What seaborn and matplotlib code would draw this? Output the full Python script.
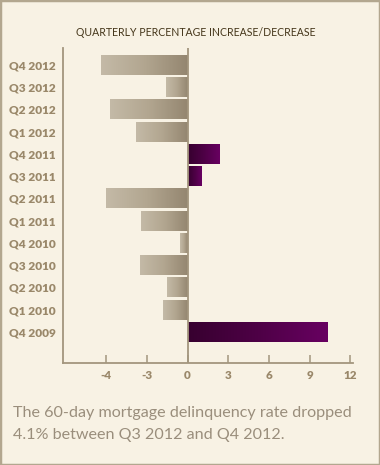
import matplotlib
matplotlib.use("Agg")
import matplotlib.pyplot as plt
import seaborn as sns
import numpy as np
import pandas as pd
from matplotlib.colors import LinearSegmentedColormap
from matplotlib.patches import Rectangle

quarters = ["Q4 2012", "Q3 2012", "Q2 2012", "Q1 2012", "Q4 2011", "Q3 2011",
            "Q2 2011", "Q1 2011", "Q4 2010", "Q3 2010", "Q2 2010", "Q1 2010", "Q4 2009"]
values = [-6.4, -1.58, -5.73, -3.8, 2.35, 1.01, -6.0, -3.43, -0.54, -3.5, -1.5, -1.8, 10.27]
tick_positions = [-6, -3, 0, 3, 6, 9, 12]
tick_labels = ["-4", "-3", "0", "3", "6", "9", "12"]

title = "QUARTERLY PERCENTAGE INCREASE/DECREASE"
caption = ["The 60-day mortgage delinquency rate dropped",
           "4.1% between Q3 2012 and Q4 2012."]

bg = "#f8f2e4"
axis_col = "#a3967e"
label_col = "#9a886a"

sns.set_theme(style="white")
plt.rcParams["font.family"] = ["Lato", "DejaVu Sans"]

fig = plt.figure(figsize=(3.8, 4.65), dpi=100, facecolor=bg)
ax = fig.add_axes([62.7 / 380, 1 - 363 / 465, (352.5 - 62.7) / 380, (363 - 48) / 465])
ax.set_facecolor(bg)

df = pd.DataFrame({"quarter": quarters, "value": values})
sns.barplot(data=df, x="value", y="quarter", orient="h", width=0.9, ax=ax,
            color="#a89a82", saturation=1)

neg_cmap = LinearSegmentedColormap.from_list("neg", ["#c4baa7", "#b2a690", "#948670"])
pos_cmap = LinearSegmentedColormap.from_list("pos", ["#37002f", "#4e0046", "#680061"])
grad = np.linspace(0, 1, 256).reshape(1, -1)
for p in list(ax.patches):
    x0 = p.get_x()
    w = p.get_width()
    y0 = p.get_y()
    h = p.get_height()
    xa, xb = min(x0, x0 + w), max(x0, x0 + w)
    cmap = neg_cmap if xa < 0 else pos_cmap
    im = ax.imshow(grad, extent=[xa, xb, y0 + h, y0], aspect="auto", cmap=cmap,
                   zorder=2, interpolation="bilinear")
    im.set_clip_path(p)
    p.set_facecolor("none")
    p.set_edgecolor("none")

ax.set_xlim(-9.2, 12.15)
ax.set_ylim(13.4, -0.76)
ax.axvline(0, color=axis_col, lw=1.3, zorder=3)

for s in ["top", "right"]:
    ax.spines[s].set_visible(False)
for s in ["left", "bottom"]:
    ax.spines[s].set_color(axis_col)
    ax.spines[s].set_linewidth(1.3)

ax.set_xticks(tick_positions)
ax.set_xticklabels(tick_labels)
ax.tick_params(axis="x", direction="in", length=6, width=1.1, color=axis_col,
               labelcolor=label_col, labelsize=8.4, pad=5, bottom=True)
ax.tick_params(axis="y", length=0, labelcolor=label_col, labelsize=8.6, pad=5)
for t in ax.get_xticklabels() + ax.get_yticklabels():
    t.set_fontweight("heavy")
ax.set_xlabel("")
ax.set_ylabel("")

fig.text(196 / 380, 1 - 33 / 465, title, ha="center", va="center",
         fontsize=7.6, color="#45361a")
fig.text(13 / 380, 1 - 417 / 465, caption[0], ha="left", va="baseline",
         fontsize=11.6, color="#9a8e7c")
fig.text(13 / 380, 1 - 439 / 465, caption[1], ha="left", va="baseline",
         fontsize=11.6, color="#9a8e7c")

fig.patches.append(Rectangle((0, 0), 1, 1, transform=fig.transFigure, fill=False,
                             edgecolor="#b3a78f", lw=2.5))

fig.savefig("out.png", dpi=100, facecolor=bg)
